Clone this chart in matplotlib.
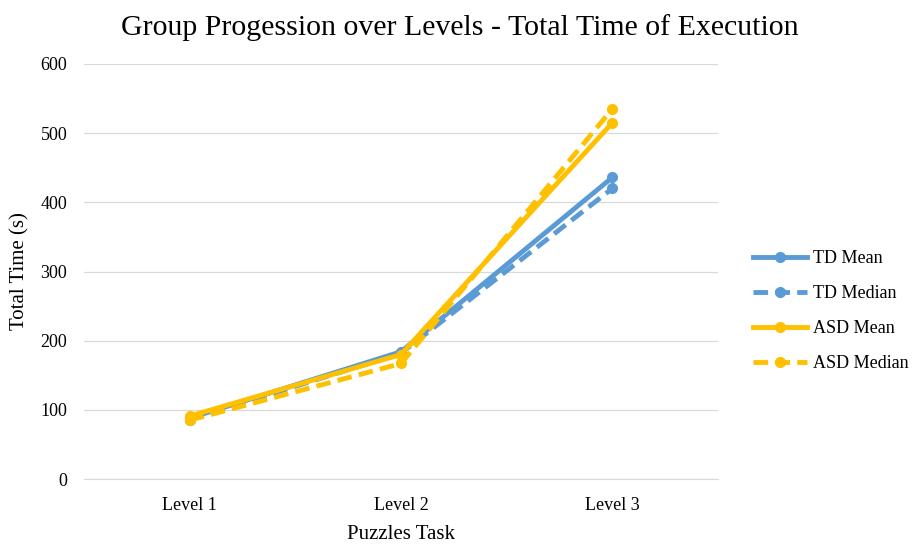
import matplotlib
matplotlib.use("Agg")
import matplotlib.pyplot as plt

levels = ["Level 1", "Level 2", "Level 3"]
td_mean = [88, 184, 436]
td_median = [86, 182, 420]
asd_mean = [91, 180, 515]
asd_median = [85, 167, 535]

blue = "#5B9BD5"
gold = "#FFC000"

plt.rcParams["font.family"] = ["Liberation Serif", "DejaVu Serif"]

fig = plt.figure(figsize=(9.19, 5.44), dpi=100)
ax = fig.add_axes([84 / 919, 1 - 479 / 544, (718 - 84) / 919, (479 - 64) / 544])

x = list(range(len(levels)))
dash = (0, (3, 1.5))
ax.plot(x, td_mean, color=blue, lw=3.5, marker="o", ms=7, label="TD Mean")
ax.plot(x, td_median, color=blue, lw=3.5, ls=dash, marker="o", ms=7, label="TD Median")
ax.plot(x, asd_mean, color=gold, lw=3.5, marker="o", ms=7, label="ASD Mean")
ax.plot(x, asd_median, color=gold, lw=3.5, ls=dash, marker="o", ms=7, label="ASD Median")

ax.set_xlim(-0.5, 2.5)
ax.set_ylim(0, 600)
ax.set_yticks(range(0, 601, 100))
ax.set_xticks(x)
ax.set_xticklabels(levels)
ax.tick_params(axis="both", length=0, labelsize=13, colors="#000000")
ax.tick_params(axis="y", pad=12)
ax.tick_params(axis="x", pad=13)
ax.grid(axis="y", color="#D9D9D9", lw=0.9)
ax.set_axisbelow(True)
for s in ["top", "right", "left"]:
    ax.spines[s].set_visible(False)
ax.spines["bottom"].set_color("#D9D9D9")

ax.set_xlabel("Puzzles Task", fontsize=15, labelpad=8)
ax.set_ylabel("Total Time (s)", fontsize=15, labelpad=8)
fig.suptitle("Group Progession over Levels - Total Time of Execution", fontsize=21.5, y=0.975)

ax.legend(loc="center left", bbox_to_anchor=(1.03, 0.405), frameon=False, fontsize=13,
          handlelength=3.0, labelspacing=1.0, handletextpad=0.3)

fig.savefig("out.png", dpi=100)
